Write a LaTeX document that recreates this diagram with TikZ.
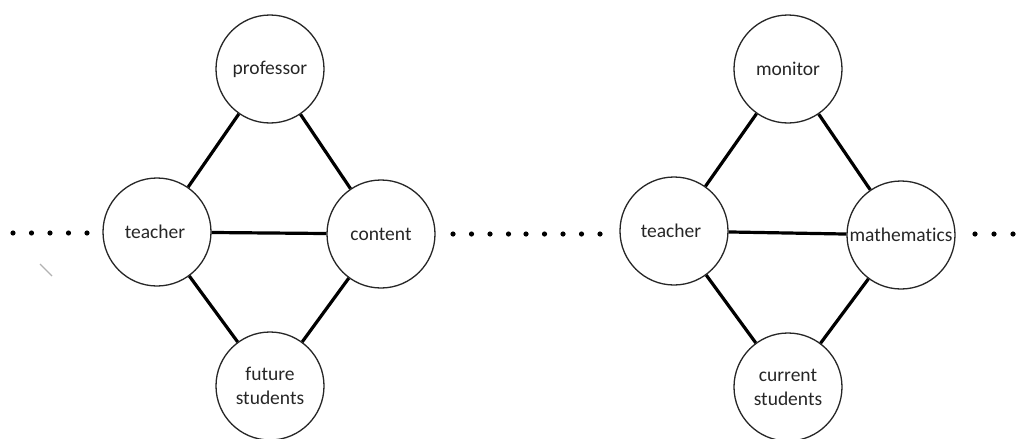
\documentclass[tikz,border=0pt]{standalone}
\usepackage{fontspec}
\setmainfont[Ligatures={NoCommon}]{Carlito}
\begin{document}
\begin{tikzpicture}[x=1pt,y=-1pt,
  role/.style={circle,draw=black!85,line width=1.3pt,minimum size=108pt,inner sep=0pt,
    font=\fontsize{19.5}{24}\selectfont,text=black!85,align=center},
  link/.style={line width=3.2pt,black},
  dotmark/.style={black}]
\clip (0,0) rectangle (1028,439);
\useasboundingbox (0,0) rectangle (1028,439);
% left diamond
\node[role] (prof) at (270,69) {professor};
\node[role] (teach1) at (157,232) {teacher\kern4pt};
\node[role] (cont) at (381,234) {content};
\node[role] (fut) at (270,386) {future\\students};
% right diamond
\node[role] (mon) at (788,69) {monitor};
\node[role] (teach2) at (674,231) {teacher\kern6pt};
\node[role] (math) at (901,235) {mathematics};
\node[role] (cur) at (788,387) {current\\students};
% links
\draw[link] (teach1) -- (prof);
\draw[link] (prof) -- (cont);
\draw[link] (teach1) -- (cont);
\draw[link] (teach1) -- (fut);
\draw[link] (cont) -- (fut);
\draw[link] (teach2) -- (mon);
\draw[link] (mon) -- (math);
\draw[link] (teach2) -- (math);
\draw[link] (teach2) -- (cur);
\draw[link] (math) -- (cur);
% dots
\foreach \x in {13,31.5,50,68.5,87} \fill[dotmark] (\x,233) circle (2.6);
\foreach \x in {453,471.5,490,508.5,526,544.5,563,581.5,600} \fill[dotmark] (\x,234) circle (2.6);
\foreach \x in {975,994,1013,1031} \fill[dotmark] (\x,234) circle (2.6);
% faint stroke
\draw[black!30,line width=1.2pt] (40,264) -- (52,276);
\end{tikzpicture}
\end{document}
